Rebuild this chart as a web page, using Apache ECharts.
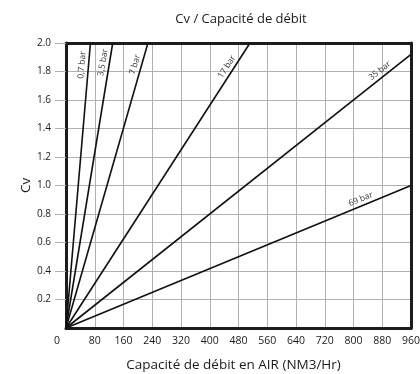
<!DOCTYPE html>
<html>
<head>
<meta charset="utf-8">
<script src="https://cdn.jsdelivr.net/npm/echarts@6/dist/echarts.min.js"></script>
<style>
  html, body { margin: 0; padding: 0; background: #fff; }
  #chart { width: 420px; height: 374px; }
</style>
</head>
<body>
<div id="chart"></div>
<script>
// Pressure curves: each line runs from the origin to its end point
const pressureLabels = ['0,7 bar', '3,5 bar', '7 bar', '17 bar', '35 bar', '69 bar'];
const flowEnd = [68, 130, 228, 512, 960, 960];   // NM3/Hr
const cvEnd = [2.0, 2.0, 2.0, 2.0, 1.92, 1.0];   // Cv
// how far back from the end of each line its label sits (px)
const labelOffset = [9, 7, 14, 20, 22, 39];

const xTicks = { min: 0, max: 960, interval: 80 };
const yTicks = { min: 0, max: 2.0, interval: 0.2 };

const FONT = '"Open Sans", "Noto Sans", sans-serif';
const FRAME = { color: '#1c1c1c', width: 3 };
const GRIDLINE = { color: '#b0b0b0', width: 1 };
const chart = echarts.init(document.getElementById('chart'), null, { renderer: 'canvas' });

const series = pressureLabels.map((name, i) => ({
  type: 'line',
  name: name,
  data: [[0, 0], [flowEnd[i], cvEnd[i]]],
  symbol: 'none',
  silent: true,
  z: 3,
  lineStyle: { color: '#111', width: 1.6 },
  markLine: {
    silent: true,
    symbol: 'none',
    lineStyle: { color: 'rgba(0,0,0,0)', width: 0 },
    label: {
      show: true,
      position: 'insideEndTop',
      distance: [labelOffset[i], 2],
      formatter: name,
      color: '#333',
      fontSize: 8.5,
      fontFamily: FONT
    },
    data: [[{ coord: [0, 0] }, { coord: [flowEnd[i], cvEnd[i]] }]]
  }
}));

// bare axes on the top and right edges close the frame
const frameOnly = {
  type: 'value',
  axisLine: { show: true, onZero: false, lineStyle: FRAME },
  axisTick: { show: false },
  axisLabel: { show: false },
  splitLine: { show: false }
};

chart.setOption({
  animation: false,
  backgroundColor: '#fff',
  title: {
    text: 'Cv / Capacité de débit',
    left: 236,
    textAlign: 'center',
    top: 8,
    textStyle: { fontFamily: FONT, fontSize: 13, fontWeight: 'normal', color: '#1a1a1a' }
  },
  grid: { left: 66, right: 9, top: 43, bottom: 46, containLabel: false, outerBoundsMode: 'none' },
  xAxis: [{
    type: 'value',
    position: 'bottom',
    min: xTicks.min, max: xTicks.max, interval: xTicks.interval,
    name: 'Capacité de débit en AIR (NM3/Hr)',
    nameLocation: 'middle',
    nameMoveOverlap: false,
    nameGap: 30,
    nameTextStyle: { fontFamily: FONT, fontSize: 13.5, color: '#1a1a1a', padding: [0, 10, 0, 0] },
    axisLine: { show: true, onZero: false, lineStyle: FRAME },
    axisTick: { show: false },
    splitLine: { show: true, lineStyle: GRIDLINE },
    axisLabel: {
      margin: 8,
      fontFamily: FONT, fontSize: 10.5, color: '#1a1a1a',
      formatter: v => v === 0 ? '{z|0}' : String(v),
      rich: { z: { padding: [0, 18, 0, 0], fontFamily: FONT, fontSize: 10.5, color: '#1a1a1a' } }
    }
  }, Object.assign({ position: 'top', min: xTicks.min, max: xTicks.max }, frameOnly)],
  yAxis: [{
    type: 'value',
    position: 'left',
    min: yTicks.min, max: yTicks.max, interval: yTicks.interval,
    name: 'Cv',
    nameLocation: 'middle',
    nameMoveOverlap: false,
    nameGap: 33,
    nameTextStyle: { fontFamily: FONT, fontSize: 13.5, color: '#1a1a1a' },
    axisLine: { show: true, onZero: false, lineStyle: FRAME },
    axisTick: { show: true, inside: false, length: 11, lineStyle: GRIDLINE },
    splitLine: { show: true, lineStyle: GRIDLINE },
    axisLabel: {
      margin: 15,
      showMinLabel: false,
      fontFamily: FONT, fontSize: 10, color: '#1a1a1a',
      formatter: v => v.toFixed(1)
    }
  }, Object.assign({ position: 'right', min: yTicks.min, max: yTicks.max }, frameOnly)],
  series: series
});
</script>
</body>
</html>
